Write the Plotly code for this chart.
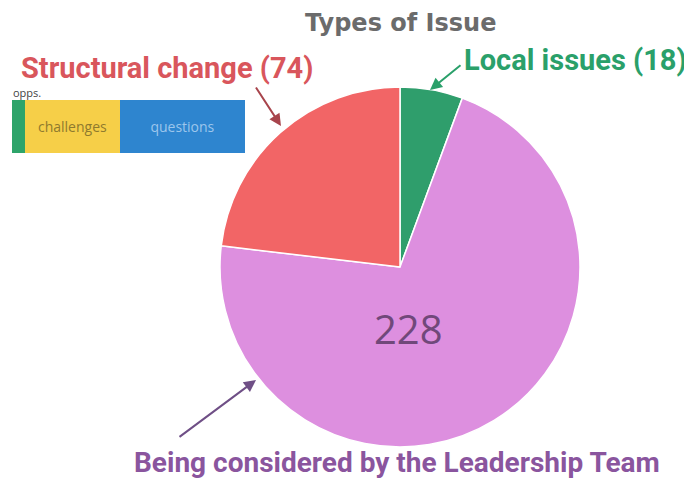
import plotly.graph_objects as go

# Page has an 8px body margin; draw in a figure offset by that margin
OFF = 8
W, H = 692 - OFF, 479 - OFF

# Pie data
pie_labels = ["Local issues", "Being considered by the Leadership Team", "Structural change"]
pie_values = [18, 228, 74]
pie_colors = ["#2f9e6c", "#dd8fdf", "#f26566"]

# Inset stacked bar data
bar_labels = ["opps.", "challenges", "questions"]
bar_values = [13, 95, 125]
bar_colors = ["#2ea46a", "#f6cf48", "#2e85cf"]
bar_text = ["", "challenges", "questions"]
bar_text_colors = ["#2ea46a", "#8f7a2e", "#9cc6ec"]

def px(x):
    return (x - OFF) / W

def py(y):
    return 1 - (y - OFF) / H

fig = go.Figure()

fig.add_trace(go.Pie(
    labels=pie_labels, values=pie_values,
    marker=dict(colors=pie_colors, line=dict(color="white", width=1.5)),
    sort=False, direction="clockwise", rotation=0,
    textinfo="none", hoverinfo="label+value", showlegend=False,
    domain=dict(x=[px(220), px(580)], y=[py(447), py(87)]),
))

for lab, val, col, txt, tcol in zip(bar_labels, bar_values, bar_colors, bar_text, bar_text_colors):
    fig.add_trace(go.Bar(
        y=["bar"], x=[val], orientation="h", name=lab,
        marker=dict(color=col, line=dict(width=0)),
        text=[txt], textposition="inside", insidetextanchor="middle",
        textfont=dict(color=tcol, size=14, family="Open Sans"),
        showlegend=False, xaxis="x", yaxis="y",
    ))

fig.update_layout(
    width=W, height=H,
    margin=dict(l=0, r=0, t=0, b=0),
    paper_bgcolor="white", plot_bgcolor="white",
    barmode="stack", bargap=0,
    xaxis=dict(domain=[px(12), px(245)], range=[0, sum(bar_values)], visible=False, fixedrange=True),
    yaxis=dict(domain=[py(153), py(100)], visible=False, fixedrange=True),
    uniformtext=dict(mode="show", minsize=10),
)

P = dict(xref="paper", yref="paper")
ann = [
    dict(x=px(400), y=py(23), text="<b>Types of Issue</b>", showarrow=False,
         font=dict(family="DejaVu Sans", size=24, color="#6b6b6b"), xanchor="center", yanchor="middle", **P),
    dict(x=px(19), y=py(68), text="<b>Structural change (74)</b>", showarrow=False,
         font=dict(family="Roboto", size=29, color="#d9565c"), xanchor="left", yanchor="middle", **P),
    dict(x=px(462), y=py(60), text="<b>Local issues (18)</b>", showarrow=False,
         font=dict(family="Roboto", size=29, color="#2aa06a"), xanchor="left", yanchor="middle", **P),
    dict(x=px(397), y=py(462), text="<b>Being considered by the Leadership Team</b>", showarrow=False,
         font=dict(family="Roboto", size=28, color="#8a559e"), xanchor="center", yanchor="middle", **P),
    dict(x=px(408), y=py(328), text="228", showarrow=False,
         font=dict(family="Open Sans", size=40, color="#70487a"), xanchor="center", yanchor="middle", **P),
    dict(x=px(11), y=py(93), text="opps.", showarrow=False,
         font=dict(family="Open Sans", size=11, color="#444"), xanchor="left", yanchor="middle", **P),
    # arrows
    dict(x=px(281), y=py(126), ax=-26, ay=-40, text="", showarrow=True, arrowhead=2,
         arrowsize=1.2, arrowwidth=2, arrowcolor="#a8444c", **P),
    dict(x=px(430), y=py(90), ax=32, ay=-26, text="", showarrow=True, arrowhead=2,
         arrowsize=1.2, arrowwidth=2, arrowcolor="#2aa06a", **P),
    dict(x=px(256), y=py(380), ax=-78, ay=58, text="", showarrow=True, arrowhead=2,
         arrowsize=1.2, arrowwidth=2, arrowcolor="#6f4f86", **P),
]
fig.update_layout(annotations=ann)

fig.write_html("out.html")
